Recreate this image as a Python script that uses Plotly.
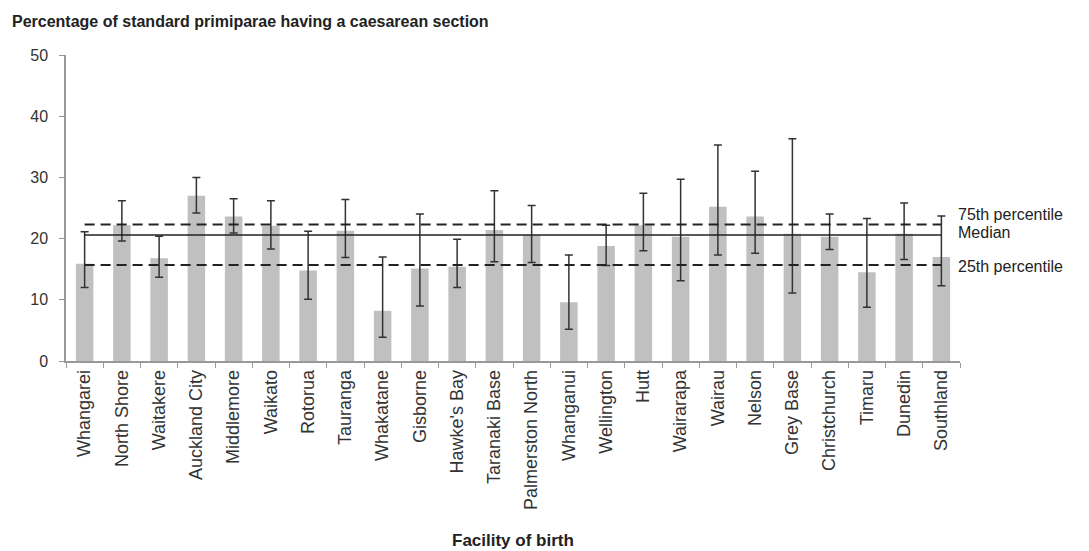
import plotly.graph_objects as go

facilities = ["Whangarei", "North Shore", "Waitakere", "Auckland City", "Middlemore", "Waikato",
              "Rotorua", "Tauranga", "Whakatane", "Gisborne", "Hawke's Bay", "Taranaki Base",
              "Palmerston North", "Whanganui", "Wellington", "Hutt", "Wairarapa", "Wairau",
              "Nelson", "Grey Base", "Christchurch", "Timaru", "Dunedin", "Southland"]
rate = [15.9, 22.2, 16.8, 27.0, 23.6, 22.1, 14.8, 21.3, 8.2, 15.1, 15.4, 21.4,
        20.6, 9.6, 18.8, 22.2, 20.3, 25.2, 23.6, 20.8, 20.3, 14.5, 20.8, 17.0]
ci_upper = [21.1, 26.2, 20.4, 30.0, 26.5, 26.2, 21.2, 26.4, 17.0, 24.0, 19.9, 27.8,
            25.4, 17.3, 22.2, 27.4, 29.7, 35.3, 31.0, 36.3, 24.0, 23.3, 25.8, 23.7]
ci_lower = [12.0, 19.6, 13.7, 24.2, 20.9, 18.3, 10.1, 16.9, 3.9, 9.0, 12.0, 16.2,
            16.1, 5.2, 15.6, 18.0, 13.1, 17.3, 17.6, 11.1, 18.2, 8.8, 16.6, 12.3]
p75 = 22.3
median = 20.6
p25 = 15.7
y_ticks = [0, 10, 20, 30, 40, 50]

err_plus = [u - r for u, r in zip(ci_upper, rate)]
err_minus = [r - l for r, l in zip(rate, ci_lower)]

FONT = "Liberation Sans, Arial, sans-serif"

fig = go.Figure()
fig.add_trace(go.Bar(
    x=facilities, y=rate,
    marker=dict(color="#c0c0c0", line=dict(width=0)),
    error_y=dict(type="data", symmetric=False, array=err_plus, arrayminus=err_minus,
                 color="#333333", thickness=1.5, width=4),
    showlegend=False, hoverinfo="skip",
))
fig.add_trace(go.Scatter(x=facilities, y=[p75] * len(facilities), mode="lines",
                         line=dict(color="#222222", width=2, dash="10px,6px"), showlegend=False))
fig.add_trace(go.Scatter(x=facilities, y=[median] * len(facilities), mode="lines",
                         line=dict(color="#222222", width=1.5), showlegend=False))
fig.add_trace(go.Scatter(x=facilities, y=[p25] * len(facilities), mode="lines",
                         line=dict(color="#222222", width=2, dash="10px,6px"), showlegend=False))

labels = [("75th percentile", 23.9), ("Median", 20.95), ("25th percentile", 15.5)]
for txt, yv in labels:
    fig.add_annotation(x=1.0, xref="paper", y=yv, yref="y", text=txt, showarrow=False,
                       xanchor="left", yanchor="middle", xshift=-4,
                       font=dict(family=FONT, size=16, color="#222222"))

fig.add_annotation(x=0.5, xref="paper", y=-0.585, yref="paper", text="<b>Facility of birth</b>",
                   showarrow=False, xanchor="center", yanchor="middle",
                   font=dict(family=FONT, size=17, color="#222222"))

fig.update_layout(
    width=1081, height=543,
    margin=dict(l=58, r=129, t=47, b=190),
    paper_bgcolor="white", plot_bgcolor="white",
    bargap=0.53,
    font=dict(family=FONT, size=13, color="#333333"),
    title=dict(text="<b>Percentage of standard primiparae having a caesarean section</b>",
               x=0.0037, xanchor="left", y=0.976, yanchor="middle",
               font=dict(family=FONT, size=16, color="#222222")),
)
fig.update_xaxes(
    type="category", showline=True, linecolor="#999999", linewidth=1.5,
    ticks="outside", tickson="boundaries", ticklen=5, tickcolor="#999999",
    tickangle=-90, tickfont=dict(family=FONT, size=18, color="#333333"),
    showgrid=False, zeroline=False,
)
fig.update_yaxes(
    range=[0, 50], tickvals=y_ticks, showline=True, linecolor="#999999", linewidth=1.5,
    ticks="outside", ticklen=5, tickcolor="#999999", ticklabelstandoff=8,
    tickfont=dict(family=FONT, size=16, color="#333333"),
    showgrid=False, zeroline=False,
)

fig.write_html("out.html")
